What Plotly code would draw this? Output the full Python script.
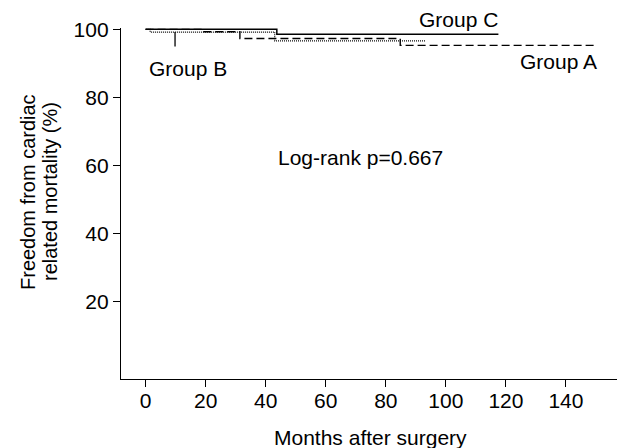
import plotly.graph_objects as go

# Data
months_A = [0, 18.7, 31.4, 84.8, 150.3]
surv_A = [100, 99.3, 97.3, 95.3, 95.3]
months_B = [0, 1.5, 43.0, 93.4]
surv_B = [100, 99.2, 96.6, 96.6]
months_C = [0, 43.7, 117.5]
surv_C = [100, 98.6, 98.6]

x_ticks = [0, 20, 40, 60, 80, 100, 120, 140]
y_ticks = [20, 40, 60, 80, 100]

FONT = "Liberation Sans, Arial, sans-serif"
FS = 21

fig = go.Figure()
fig.add_trace(go.Scatter(x=months_C, y=surv_C, mode="lines", line_shape="hv",
                         line=dict(color="black", width=1.5), showlegend=False))
fig.add_trace(go.Scatter(x=months_A, y=surv_A, mode="lines", line_shape="hv",
                         line=dict(color="black", width=1.4, dash="8px,4px"), showlegend=False))
fig.add_trace(go.Scatter(x=months_B, y=surv_B, mode="lines", line_shape="hv",
                         line=dict(color="black", width=1.2, dash="1px,1px"), showlegend=False))

# page body has an 8px default margin, so the figure is laid out 8px up/left
OFF = 8
W, H = 627 - OFF, 448 - OFF
l, r, t, b = 121 - OFF, 10, 28 - OFF, 69
PW, PH = W - l - r, H - t - b


def px(xp):
    return (xp - OFF - l) / PW


def py(yp):
    return 1 - (yp - OFF - t) / PH


fig.update_layout(
    width=W, height=H,
    margin=dict(l=l, r=r, t=t, b=b, pad=0, autoexpand=False),
    plot_bgcolor="white", paper_bgcolor="white",
    font=dict(family=FONT, size=FS, color="black"),
    xaxis=dict(range=[-8.2, 157], tickvals=x_ticks, ticks="outside", ticklen=7,
               tickwidth=1.2, tickcolor="black", showline=True, linecolor="black",
               linewidth=1.3, showgrid=False, zeroline=False,
               ticklabelstandoff=-4, tickfont=dict(size=FS)),
    yaxis=dict(range=[-2.64, 100.4], tickvals=y_ticks, ticks="outside", ticklen=7,
               tickwidth=1.2, tickcolor="black", showline=True, linecolor="black",
               linewidth=1.3, showgrid=False, zeroline=False,
               tickfont=dict(size=FS)),
)

texts = [
    (458, 20, "Group C", FS, 0),
    (558, 61, "Group A", FS, 0),
    (188, 69, "Group B", FS, 0),
    (360, 157, "Log-rank p=0.667", FS, 0),
    (370, 437, "Months after surgery", FS, 0),
    (28, 192, "Freedom from cardiac", 20, -90),
    (50, 192, "related mortality (%)", 20, -90),
]
for xp, yp, txt, fs, ang in texts:
    fig.add_annotation(x=px(xp), y=py(yp), xref="paper", yref="paper", text=txt,
                       showarrow=False, textangle=ang, font=dict(size=fs, family=FONT),
                       xanchor="center", yanchor="middle")

fig.add_shape(type="line", x0=9.8, x1=9.8, y0=99.2, y1=95.0, xref="x", yref="y",
              line=dict(color="black", width=1.3))

fig.write_html("out.html")
